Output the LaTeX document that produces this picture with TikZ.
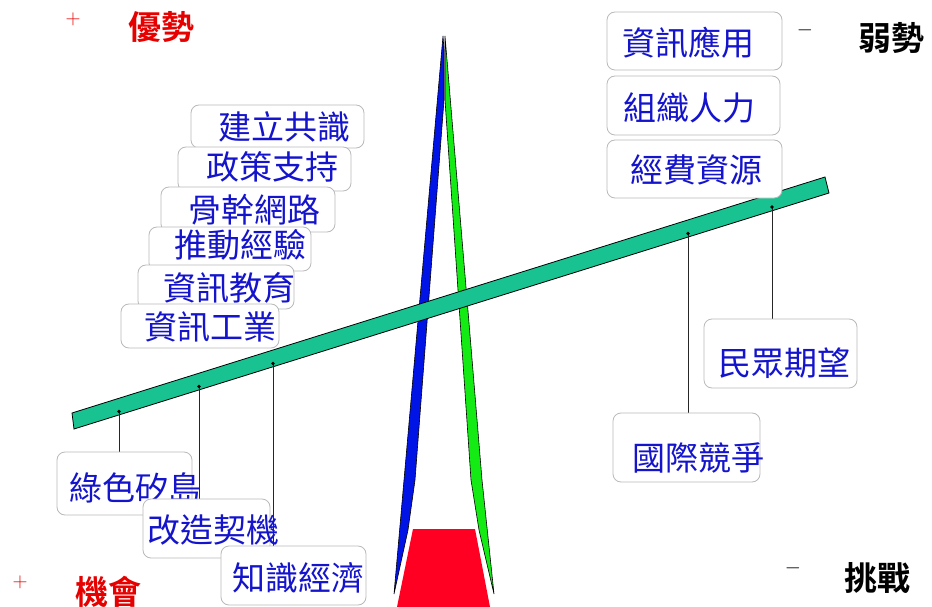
\documentclass[tikz,border=0pt]{standalone}
\usepackage{fontspec}
\newfontfamily\cjk{Noto Sans CJK TC}[BoldFont={Noto Sans CJK TC Bold}]
\definecolor{beamc}{RGB}{25,195,145}
\definecolor{spikeblue}{RGB}{0,20,230}
\definecolor{spikegreen}{RGB}{20,235,20}
\definecolor{basered}{RGB}{255,0,35}
\definecolor{txtblue}{RGB}{20,20,205}
\definecolor{txtred}{RGB}{230,0,0}
\begin{document}
\begin{tikzpicture}[x=1pt,y=-1pt,
  box/.style={draw=gray!55, fill=white, rounded corners=8pt, line width=0.8pt, inner sep=0pt, outer sep=0pt},
  lbl/.style={font={\cjk\fontsize{33}{36}\selectfont}, text=txtblue, inner sep=0pt},
  head/.style={font={\cjk\bfseries\fontsize{33}{36}\selectfont}, inner sep=0pt},
  sign/.style={font={\fontsize{20}{24}\selectfont}, inner sep=0pt},
  hanger/.style={draw=gray!30!black, line width=1pt},
  dotc/.style={fill=black}]
\useasboundingbox (0,0) rectangle (932,607);
% spikes
\filldraw[fill=spikeblue, draw=black, line width=0.6pt] (443,36) -- (394,594) -- (408,530) -- (415,480) -- (444,100) -- (444,50) -- cycle;
\filldraw[fill=spikegreen, draw=black, line width=0.6pt] (445,36) -- (471,347) -- (482,480) -- (494,594) -- (479,530) -- (471,480) -- (445,100) -- (445,50) -- cycle;
% base
\fill[basered] (413,529) -- (475,529) -- (490,607) -- (397,607) -- cycle;
% beam
\filldraw[fill=beamc, draw=black, line width=0.8pt] (72,413) -- (825,177) -- (829,193) -- (74,429) -- cycle;
% hanger points
\coordinate (d1) at (119,411.5);
\coordinate (d2) at (199,386.5);
\coordinate (d3) at (273,363.5);
\coordinate (d4) at (688,233.5);
\coordinate (d5) at (772,207);
% left upper stack
\node[box, minimum width=173pt, minimum height=43pt] (b1) at (277.5,126.5) {};
\node[lbl] (t1) at (284,127) {建立共識};
\node[box, minimum width=173pt, minimum height=44pt] (b2) at (264.5,169) {};
\node[lbl] (t2) at (272,167) {政策支持};
\node[box, minimum width=174pt, minimum height=45pt] (b3) at (248,209.5) {};
\node[lbl] (t3) at (254,210) {骨幹網路};
\node[box, minimum width=162pt, minimum height=44pt] (b4) at (230,249) {};
\node[lbl] (t4) at (240,245) {推動經驗};
\node[box, minimum width=156pt, minimum height=44pt] (b5) at (216,287) {};
\node[lbl] (t5) at (229,288) {資訊教育};
\node[box, minimum width=158pt, minimum height=44pt] (b6) at (200,326) {};
\node[lbl] (t6) at (210,327) {資訊工業};
% right upper stack
\node[box, minimum width=175pt, minimum height=58pt] (b7) at (694.5,41) {};
\node[lbl] (t7) at (688,43) {資訊應用};
\node[box, minimum width=173pt, minimum height=59pt] (b8) at (693.5,105.5) {};
\node[lbl] (t8) at (689,108) {組織人力};
\node[box, minimum width=175pt, minimum height=58pt] (b9) at (694.5,169) {};
\node[lbl] (t9) at (696,170) {經費資源};
% hangers
\draw[hanger] (d1) -- (d1 |- 0,452);
\draw[hanger] (d2) -- (d2 |- 0,499);
\draw[hanger] (d3) -- (d3 |- 0,546);
\draw[hanger] (d4) -- (d4 |- 0,413);
\draw[hanger] (d5) -- (d5 |- 0,319);
\foreach \d in {d1,d2,d3,d4,d5} \fill[dotc] (\d) circle (1.8pt);
% hanging boxes
\node[box, minimum width=153pt, minimum height=69pt] (b10) at (780.5,353.5) {};
\node[lbl] (t10) at (784,363) {民眾期望};
\node[box, minimum width=147pt, minimum height=69pt] (b11) at (686.5,447.5) {};
\node[lbl] (t11) at (698,458) {國際競爭};
\node[box, minimum width=135pt, minimum height=63pt] (b12) at (124.5,483.5) {};
\node[lbl] (t12) at (135,488) {綠色矽島};
\node[box, minimum width=127pt, minimum height=59pt] (b13) at (206.5,528.5) {};
\node[lbl] (t13) at (213,530) {改造契機};
\node[box, minimum width=145pt, minimum height=59pt] (b14) at (293.5,575.5) {};
\node[lbl] (t14) at (298,578) {知識經濟};
% corner headings
\node[sign, text=txtred] (p1) at (73,19) {$+$};
\node[head, text=txtred] (h1) at (161.5,27) {優勢};
\node[sign, text=black] (m1) at (805,30) {$-$};
\node[head, text=black] (h2) at (891,38) {弱勢};
\node[sign, text=txtred] (p2) at (20,582) {$+$};
\node[head, text=txtred] (h3) at (108,592) {機會};
\node[sign, text=black] (m2) at (793,568) {$-$};
\node[head, text=black] (h4) at (877.5,578) {挑戰};
\end{tikzpicture}
\end{document}
